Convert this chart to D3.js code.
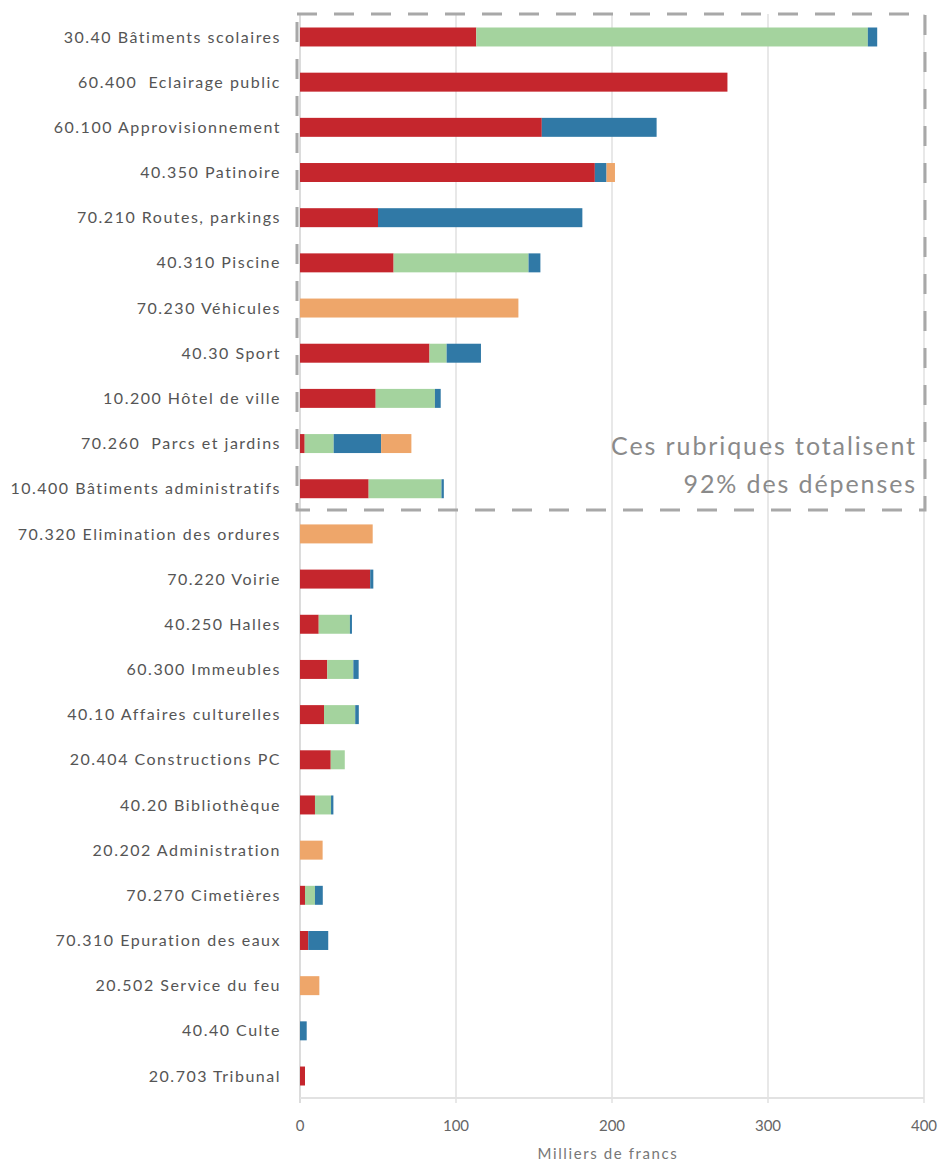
<!DOCTYPE html>
<html>
<head>
<meta charset="utf-8">
<script src="https://cdn.jsdelivr.net/npm/d3@7"></script>
<style>
  body { margin: 0; background: #fff; }
  text { font-family: Lato, "Open Sans", sans-serif; }
</style>
</head>
<body>
<div id="container"></div>
<script>
// rubriques, du plus grand au plus petit
var categories = [
  "30.40 Bâtiments scolaires",
  "60.400  Eclairage public",
  "60.100 Approvisionnement",
  "40.350 Patinoire",
  "70.210 Routes, parkings",
  "40.310 Piscine",
  "70.230 Véhicules",
  "40.30 Sport",
  "10.200 Hôtel de ville",
  "70.260  Parcs et jardins",
  "10.400 Bâtiments administratifs",
  "70.320 Elimination des ordures",
  "70.220 Voirie",
  "40.250 Halles",
  "60.300 Immeubles",
  "40.10 Affaires culturelles",
  "20.404 Constructions PC",
  "40.20 Bibliothèque",
  "20.202 Administration",
  "70.270 Cimetières",
  "70.310 Epuration des eaux",
  "20.502 Service du feu",
  "40.40 Culte",
  "20.703 Tribunal"
];

// milliers de francs, par type
var serieRouge  = [113, 274, 155, 189, 50, 60, 0, 83, 48.5, 3, 44, 0, 45, 12, 17.5, 15.4, 19.7, 9.6, 0, 3.2, 5.3, 0, 0, 3.2];
var serieVert   = [251, 0, 0, 0, 0, 86.5, 0, 11, 38, 18.6, 46.7, 0, 0, 20, 16.7, 20, 9, 10.3, 0, 6.4, 0, 0, 0, 0];
var serieBleu   = [6, 0, 73.6, 7.5, 131, 7.6, 0, 22, 3.7, 30.4, 1.5, 0, 2, 1.3, 3.4, 2.3, 0, 1.5, 0, 5, 12.8, 0, 4.3, 0];
var serieOrange = [0, 0, 0, 5.4, 0, 0, 140, 0, 0, 19.4, 0, 46.6, 0, 0, 0, 0, 0, 0, 14.5, 0, 0, 12.4, 0, 0];

var seriesKeys = ["rouge", "vert", "bleu", "orange"];
var colors = ["#c5262d", "#a4d39e", "#3079a6", "#eea66a"];
var xTicks = [0, 100, 200, 300, 400];

var width = 939, height = 1164;
var x0 = 300, x1 = 924;

var rows = categories.map(function (c, i) {
  return { cat: c, rouge: serieRouge[i], vert: serieVert[i], bleu: serieBleu[i], orange: serieOrange[i] };
});

var svg = d3.select("#container").append("svg")
    .attr("width", width)
    .attr("height", height);

var x = d3.scaleLinear().domain([0, 400]).range([x0, x1]);
var y = d3.scaleBand().domain(categories).range([14.4, 1098.6])
    .paddingInner(0.58).paddingOuter(0.29);

// grille
svg.append("g").selectAll("line")
  .data(xTicks)
  .enter().append("line")
    .attr("x1", function (d) { return x(d); })
    .attr("x2", function (d) { return x(d); })
    .attr("y1", 14)
    .attr("y2", 1103)
    .attr("stroke", function (d) { return d === 0 ? "#dcdcdc" : "#e8e8e8"; })
    .attr("stroke-width", 2);

// axe du bas
svg.append("line")
    .attr("x1", x0).attr("x2", x1)
    .attr("y1", 1098).attr("y2", 1098)
    .attr("stroke", "#e2e2e2")
    .attr("stroke-width", 2);

svg.append("g").selectAll("text")
  .data(xTicks)
  .enter().append("text")
    .attr("x", function (d) { return x(d); })
    .attr("y", 1131)
    .attr("text-anchor", "middle")
    .attr("font-size", 15)
    .attr("fill", "#666")
    .text(function (d) { return d; });

svg.append("text")
    .attr("x", 608)
    .attr("y", 1159)
    .attr("text-anchor", "middle")
    .attr("font-size", 15)
    .attr("letter-spacing", 1.6)
    .attr("fill", "#777")
    .text("Milliers de francs");

// barres empilées
var stack = d3.stack().keys(seriesKeys);
var layers = stack(rows);

svg.append("g").selectAll("g")
  .data(layers)
  .enter().append("g")
    .attr("fill", function (d, i) { return colors[i]; })
  .selectAll("rect")
  .data(function (d) { return d; })
  .enter().append("rect")
    .attr("x", function (d) { return x(d[0]); })
    .attr("y", function (d) { return y(d.data.cat); })
    .attr("width", function (d) { return Math.max(0, x(d[1]) - x(d[0])); })
    .attr("height", y.bandwidth());

// étiquettes
svg.append("g").selectAll("text")
  .data(categories)
  .enter().append("text")
    .attr("x", 281)
    .attr("y", function (d) { return y(d) + y.bandwidth() / 2; })
    .attr("dy", "0.35em")
    .attr("text-anchor", "end")
    .attr("font-size", 16)
    .attr("letter-spacing", 1.5)
    .attr("fill", "#555")
    .style("white-space", "pre")
    .text(function (d) { return d; });

// cadre des principales rubriques
svg.append("rect")
    .attr("x", 297)
    .attr("y", 14)
    .attr("width", 628)
    .attr("height", 496)
    .attr("fill", "none")
    .attr("stroke", "#a8a8a8")
    .attr("stroke-width", 3)
    .attr("stroke-dasharray", "20,17");

svg.append("text")
    .attr("x", 917)
    .attr("y", 455)
    .attr("text-anchor", "end")
    .attr("font-size", 25)
    .attr("letter-spacing", 1.9)
    .attr("fill", "#8a8a8a")
    .text("Ces rubriques totalisent");

svg.append("text")
    .attr("x", 917)
    .attr("y", 493)
    .attr("text-anchor", "end")
    .attr("font-size", 25)
    .attr("letter-spacing", 1.9)
    .attr("fill", "#8a8a8a")
    .text("92% des dépenses");
</script>
</body>
</html>
